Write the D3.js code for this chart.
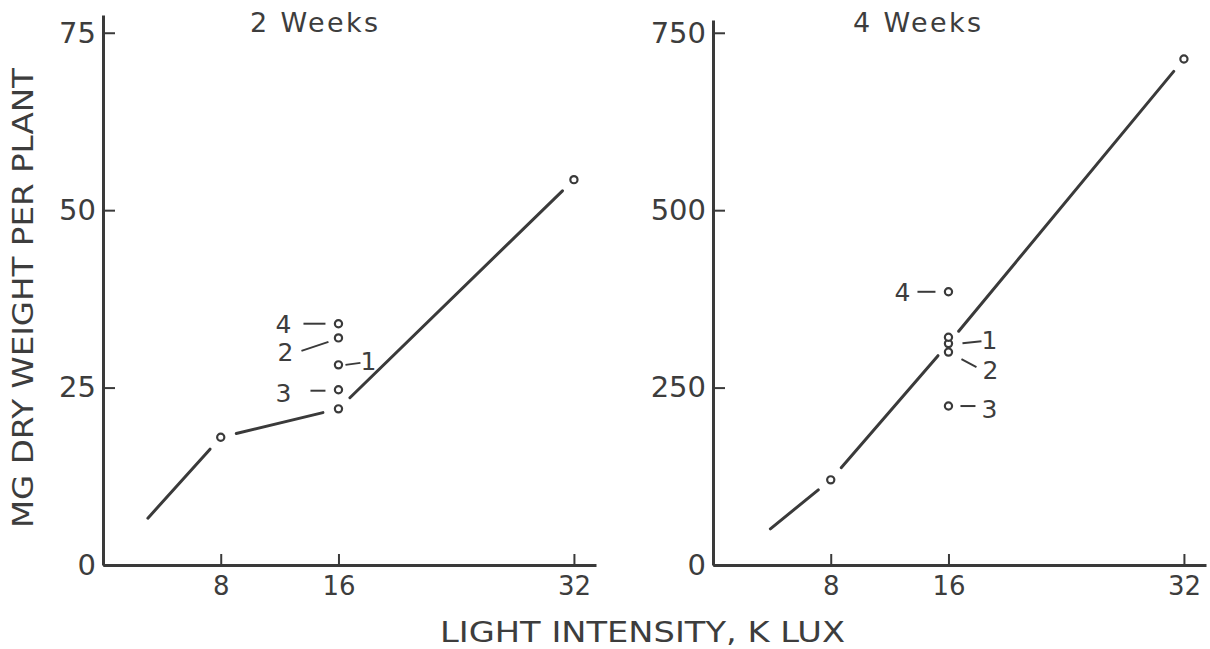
<!DOCTYPE html>
<html>
<head>
<meta charset="utf-8">
<script src="https://cdn.jsdelivr.net/npm/d3@7"></script>
<style>
  html, body { margin: 0; padding: 0; background: #fff; }
  svg { display: block; }
  text { font-family: "DejaVu Sans", "Liberation Sans", sans-serif; fill: #3d3d3d; }
</style>
</head>
<body>
<svg id="chart"></svg>
<script>
// light intensity (k lux) of the mean points, and x tick labels
const lightK = [8, 16, 32];
const xTicks = [8, 16, 32];

// 2 weeks: mean dry weight (mg) and where the fitted line starts (x, y)
const mean2wk = [18.0, 22.0, 54.3];
const lineFrom2wk = [3.05, 6.6];
const yTicks2wk = [0, 25, 50, 75];

// 4 weeks
const mean4wk = [120, 312, 713];
const lineFrom4wk = [3.9, 51];
const yTicks4wk = [0, 250, 500, 750];

// numbered treatments, all at 16 k lux
const subX = 16;
const subLabels = ["1", "2", "3", "4"];
const sub2wk = [28.2, 32.0, 24.7, 34.0];
const sub4wk = [321, 300, 224, 385];

// leader/label placement, pixel offsets from each numbered point
const layout2wk = {
  "1": { text: [30, -4], lead: [[7, 0], [22, -2]] },
  "2": { text: [-53, 14], lead: [[-37, 13], [-10, 4]] },
  "3": { text: [-55, 3], lead: [[-28, 1], [-13, 1]] },
  "4": { text: [-55, 0], lead: [[-35, 0], [-13, 0]] }
};
const layout4wk = {
  "1": { text: [41, 3], lead: [[14, 6], [33, 4]] },
  "2": { text: [42, 18], lead: [[13, 7], [28, 15]] },
  "3": { text: [41, 3], lead: [[12, 0], [27, 0]] },
  "4": { text: [-46, 0], lead: [[-31, 0], [-13, 0]] }
};

const W = 1210, H = 649;
const ink = '#3a3a3a';
const gap = 16;

const svg = d3.select('#chart').attr('width', W).attr('height', H);

function drawPanel(opt) {
  const x = d3.scaleLinear().domain([0, 33.5]).range([opt.left, opt.left + 493]);
  const y = d3.scaleLinear().domain([0, opt.yMax]).range([565, opt.top]);
  const g = svg.append('g');

  // axes
  const yAxis = d3.axisLeft(y).tickValues(opt.yTicks).tickSizeInner(-12).tickSizeOuter(0).tickPadding(7);
  const gy = g.append('g').attr('transform', `translate(${opt.left},0)`).call(yAxis);
  const xAxis = d3.axisBottom(x).tickValues(xTicks).tickSizeInner(-11).tickSizeOuter(0).tickPadding(12);
  const gx = g.append('g').attr('transform', 'translate(0,565)').call(xAxis);
  [gx, gy].forEach(a => {
    a.select('.domain').attr('stroke', ink).attr('stroke-width', 3);
    a.selectAll('.tick line').attr('stroke', ink).attr('stroke-width', 2);
    a.selectAll('text').attr('fill', ink).style('font-family', '"DejaVu Sans", sans-serif');
  });
  gy.selectAll('text').style('font-size', '29px');
  gx.selectAll('text').style('font-size', '26px');

  // fitted line, broken around the circles
  const pts = [[x(opt.from[0]), y(opt.from[1]), false]]
    .concat(lightK.map((k, i) => [x(k), y(opt.mean[i]), true]));
  for (let i = 0; i < pts.length - 1; i++) {
    const a = pts[i], b = pts[i + 1];
    const dx = b[0] - a[0], dy = b[1] - a[1];
    const len = Math.hypot(dx, dy);
    const ux = dx / len, uy = dy / len;
    const s = a[2] ? gap : 0;
    g.append('line')
      .attr('x1', a[0] + ux * s).attr('y1', a[1] + uy * s)
      .attr('x2', b[0] - ux * gap).attr('y2', b[1] - uy * gap)
      .attr('stroke', ink).attr('stroke-width', 3).attr('stroke-linecap', 'round');
  }

  // mean points
  g.selectAll('circle.mean')
    .data(lightK.map((k, i) => [k, opt.mean[i]]))
    .enter().append('circle')
    .attr('cx', d => x(d[0])).attr('cy', d => y(d[1])).attr('r', 3.6)
    .attr('fill', '#fff').attr('stroke', ink).attr('stroke-width', 2.2);

  // numbered points with leaders
  subLabels.forEach((lab, i) => {
    const cx = x(subX), cy = y(opt.sub[i]);
    const L = opt.layout[lab];
    g.append('circle').attr('cx', cx).attr('cy', cy).attr('r', 3.6)
      .attr('fill', '#fff').attr('stroke', ink).attr('stroke-width', 2.2);
    g.append('line')
      .attr('x1', cx + L.lead[0][0]).attr('y1', cy + L.lead[0][1])
      .attr('x2', cx + L.lead[1][0]).attr('y2', cy + L.lead[1][1])
      .attr('stroke', ink).attr('stroke-width', 2);
    g.append('text')
      .attr('x', cx + L.text[0]).attr('y', cy + L.text[1])
      .attr('text-anchor', 'middle').attr('dy', '0.36em')
      .style('font-size', '25px')
      .text(lab);
  });

  // panel title
  g.append('text')
    .attr('x', opt.titleX).attr('y', 32)
    .attr('textLength', 128).attr('lengthAdjust', 'spacing')
    .style('font-size', '27px')
    .text(opt.title);
}

drawPanel({ left: 103, top: 15, yMax: 77.5, yTicks: yTicks2wk, mean: mean2wk, from: lineFrom2wk,
  sub: sub2wk, layout: layout2wk, title: '2 Weeks', titleX: 250 });
drawPanel({ left: 713, top: 20, yMax: 768, yTicks: yTicks4wk, mean: mean4wk, from: lineFrom4wk,
  sub: sub4wk, layout: layout4wk, title: '4 Weeks', titleX: 853 });

// axis titles
svg.append('text')
  .attr('transform', 'translate(33,528) rotate(-90)')
  .attr('textLength', 460).attr('lengthAdjust', 'spacingAndGlyphs')
  .style('font-size', '29px')
  .text('MG DRY WEIGHT PER PLANT');

svg.append('text')
  .attr('x', 440).attr('y', 642)
  .attr('textLength', 405).attr('lengthAdjust', 'spacingAndGlyphs')
  .style('font-size', '29px')
  .text('LIGHT INTENSITY, K LUX');
</script>
</body>
</html>
